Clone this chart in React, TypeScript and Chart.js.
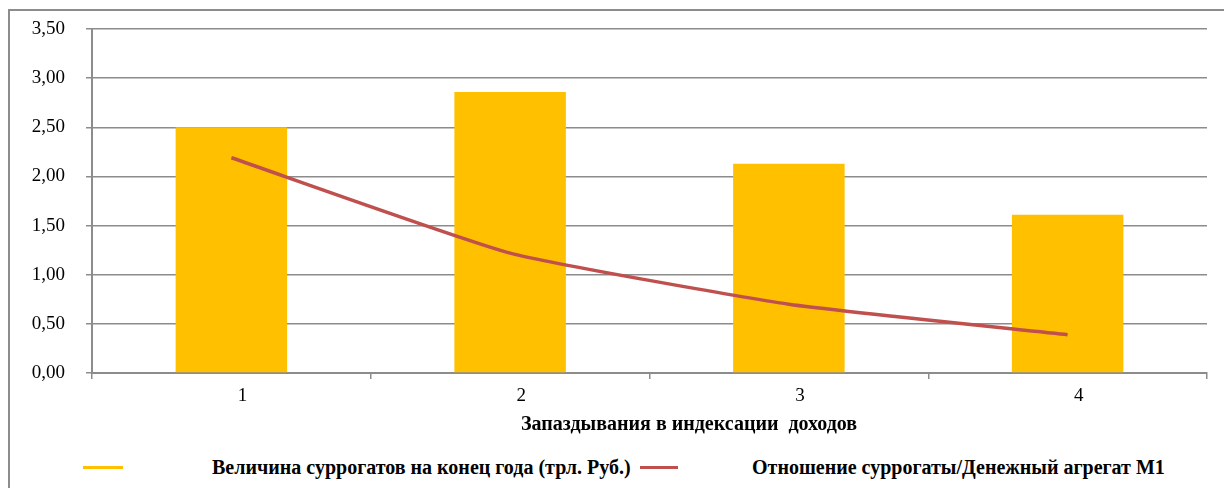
import React, { useEffect, useRef } from "react";
import { Chart, registerables } from "chart.js";

Chart.register(...registerables);

const categories = ["1", "2", "3", "4"];
const surrogateValues = [2.5, 2.86, 2.13, 1.61];
const ratioValues = [2.19, 1.22, 0.7, 0.39];
const yTicks = [0, 0.5, 1, 1.5, 2, 2.5, 3, 3.5];
const barLabel = "Величина суррогатов на конец года (трл. Руб.)";
const lineLabel = "Отношение суррогаты/Денежный агрегат М1";
const xTitle = "Запаздывания в индексации  доходов";

const BAR_COLOR = "#FFC000";
const LINE_COLOR = "#C0504D";
const GRID_COLOR = "#8c8c8c";
const SERIF = "'Liberation Serif', 'Times New Roman', serif";

export default function App() {
  const canvasRef = useRef<HTMLCanvasElement | null>(null);

  useEffect(() => {
    document.body.style.overflow = "hidden";
    const ctx = canvasRef.current;
    if (!ctx) return;
    const chart = new Chart(ctx, {
      type: "bar",
      data: {
        labels: categories,
        datasets: [
          {
            type: "line",
            label: lineLabel,
            data: ratioValues,
            borderColor: LINE_COLOR,
            backgroundColor: LINE_COLOR,
            borderWidth: 3.5,
            pointRadius: 0,
            tension: 0.15,
            order: 0,
          },
          {
            type: "bar",
            label: barLabel,
            data: surrogateValues,
            backgroundColor: BAR_COLOR,
            categoryPercentage: 1,
            barPercentage: 0.4,
            order: 1,
          },
        ],
      },
      options: {
        responsive: false,
        animation: false,
        layout: { padding: { left: 0, right: 17, top: 18, bottom: 0 } },
        plugins: {
          legend: { display: false },
          tooltip: { enabled: false },
        },
        scales: {
          x: {
            offset: true,
            grid: {
              offset: true,
              drawOnChartArea: false,
              drawTicks: true,
              tickLength: 6,
              color: GRID_COLOR,
              lineWidth: 1.5,
            },
            border: { color: GRID_COLOR, width: 2 },
            ticks: {
              color: "#000",
              padding: 6,
              labelOffset: 11,
              font: { family: SERIF, size: 19 },
            },
            afterFit: (scale: any) => {
              scale.height = 67;
              scale.paddingLeft = 0;
              scale.paddingRight = 0;
            },
          },
          y: {
            min: 0,
            max: 3.5,
            afterBuildTicks: (scale: any) => {
              scale.ticks = yTicks.map((v) => ({ value: v }));
            },
            grid: {
              color: GRID_COLOR,
              lineWidth: 1.5,
              tickLength: 6,
            },
            border: { color: GRID_COLOR, width: 2 },
            ticks: {
              color: "#000",
              padding: 21,
              font: { family: SERIF, size: 19 },
              callback: (v: any) => Number(v).toFixed(2).replace(".", ","),
            },
            afterFit: (scale: any) => {
              scale.width = 82;
              scale.paddingTop = 0;
              scale.paddingBottom = 0;
            },
          },
        },
      },
    });
    return () => chart.destroy();
  }, []);

  const boldText: React.CSSProperties = {
    position: "absolute",
    fontFamily: SERIF,
    fontWeight: "bold",
    fontSize: 20,
    color: "#000",
    whiteSpace: "pre",
    lineHeight: "22px",
  };

  return (
    <div
      style={{
        position: "absolute",
        left: 8,
        top: 9,
        width: 1216,
        height: 479,
        borderTop: "2px solid #8c8c8c",
        borderLeft: "2px solid #8c8c8c",
        boxSizing: "border-box",
        background: "#fff",
        overflow: "hidden",
      }}
    >
      <canvas
        ref={canvasRef}
        width={1214}
        height={429}
        style={{ position: "absolute", left: 0, top: 0, width: 1214, height: 429 }}
      />
      <div style={{ ...boldText, left: 511, top: 401 }}>{xTitle}</div>
      <div style={{ position: "absolute", left: 73, top: 455, width: 40, height: 3, background: BAR_COLOR }} />
      <div style={{ ...boldText, left: 202, top: 445 }}>{barLabel}</div>
      <div style={{ position: "absolute", left: 630, top: 455, width: 38, height: 3, background: LINE_COLOR }} />
      <div style={{ ...boldText, left: 742, top: 445 }}>{lineLabel}</div>
    </div>
  );
}
